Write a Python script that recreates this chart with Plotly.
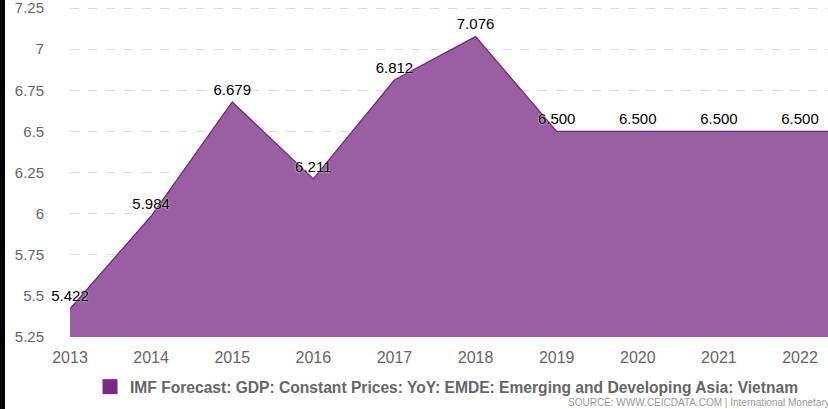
import plotly.graph_objects as go

years = [2013, 2014, 2015, 2016, 2017, 2018, 2019, 2020, 2021, 2022, 2023]
values = [5.422, 5.984, 6.679, 6.211, 6.812, 7.076, 6.500, 6.500, 6.500, 6.500, 6.500]
labels = ["5.422", "5.984", "6.679", "6.211", "6.812", "7.076", "6.500", "6.500", "6.500", "6.500", ""]
y_ticks = [5.25, 5.5, 5.75, 6, 6.25, 6.5, 6.75, 7, 7.25]
y_tick_text = ["5.25", "5.5", "5.75", "6", "6.25", "6.5", "6.75", "7", "7.25"]
series_name = "IMF Forecast: GDP: Constant Prices: YoY: EMDE: Emerging and Developing Asia: Vietnam"

W, H = 828, 409
L, R, T, B = 70, 0, 0, 72
pw = W - L - R
ph = H - T - B
px_per_unit = (337 - 8) / 2.0
y_top = 7.25 + 8 / px_per_unit

fig = go.Figure()
fig.add_trace(go.Scatter(
    x=years, y=values, mode="lines+markers+text", text=labels, textposition="top center",
    textfont=dict(family="Liberation Sans, Arial", size=15, color="#000000",
                  shadow="0px 0px 2px #ffffff"),
    marker=dict(size=4, opacity=0),
    line=dict(color="#6d2a78", width=1.3),
    fill="tozeroy", fillcolor="#9a5fa3",
    name=series_name, showlegend=False, cliponaxis=False,
))
fig.add_trace(go.Scatter(
    x=[None], y=[None], mode="markers", name=series_name, showlegend=True,
    marker=dict(symbol="square", size=15, color="#7a2a84"),
))

fig.update_layout(
    width=W, height=H,
    margin=dict(l=L, r=R, t=T, b=B),
    paper_bgcolor="#ffffff", plot_bgcolor="#ffffff",
    font=dict(family="Liberation Sans, Arial", color="#666666"),
    xaxis=dict(range=[2013, 2022.345], tickmode="array", tickvals=years[:10],
               ticktext=[str(y) for y in years[:10]], showgrid=False, zeroline=False,
               tickfont=dict(size=16, color="#666666"), ticks="outside", ticklen=6,
               tickcolor="rgba(0,0,0,0)", showline=False, ticklabeloverflow="allow"),
    yaxis=dict(range=[5.25, y_top], tickmode="array", tickvals=y_ticks, ticktext=y_tick_text,
               showgrid=True, gridcolor="#dddddd", griddash="dash", gridwidth=1,
               zeroline=False, tickfont=dict(size=15, color="#666666"),
               ticks="outside", ticklen=22, tickcolor="rgba(0,0,0,0)",
               ticklabeloverflow="allow"),
    legend=dict(orientation="h", x=(447 - L) / pw, xanchor="center", y=-(370 - 337) / ph,
                yanchor="top", itemwidth=30,
                font=dict(size=15.6, color="#666666", family="Liberation Sans, Arial", weight="bold")),
    showlegend=True,
)

fig.add_shape(type="rect", xref="paper", yref="paper",
              x0=-L / pw, x1=-(L - 5) / pw, y0=-B / ph, y1=1 + T / ph,
              fillcolor="#000000", line=dict(width=0), layer="above")

fig.add_annotation(text="SOURCE: WWW.CEICDATA.COM | International Monetary",
                   xref="paper", yref="paper", x=(566 - L) / pw, xanchor="left",
                   y=-(403 - 337) / ph, yanchor="middle", showarrow=False,
                   font=dict(size=10, color="#999999", family="Liberation Sans, Arial"))

fig.write_html("out.html")
